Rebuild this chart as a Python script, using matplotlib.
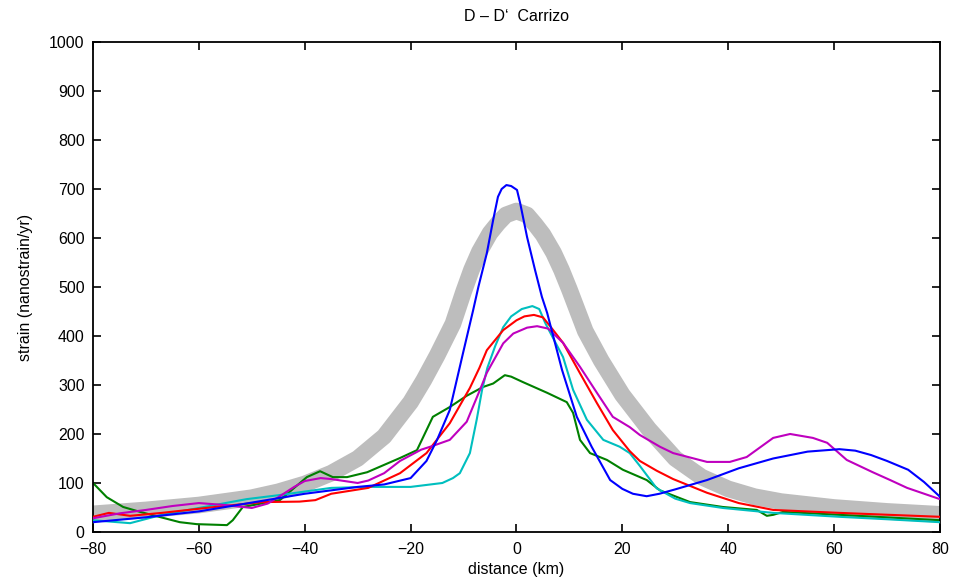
import numpy as np
from matplotlib import pyplot as plt

plt.rcParams['font.family'] = ['Liberation Sans', 'DejaVu Sans']

# gray reference curve (thick)
gray_x = [-80, -70, -60, -50, -45, -40, -35, -30, -25, -20, -17.5, -15, -12, -10, -8.5, -7,
          -5, -3.5, -2, 0, 2, 3.5, 5, 7, 8.5, 10, 13, 16, 20, 25, 30, 35, 40, 45, 50, 60,
          70, 80]
gray_y = [37, 45, 55, 70, 82, 98, 120, 150, 195, 265, 310, 360, 425, 490, 535, 572,
          610, 630, 647, 655, 647, 628, 607, 570, 535, 495, 410, 350, 280, 210, 150, 112,
          88, 72, 62, 50, 42, 36]

blue_x = [-80, -70, -60, -50, -40, -30, -25, -20, -17, -15, -12.6, -10.1, -8.2, -7.2, -5.6,
          -4.4, -3.5, -2.8, -1.9, -1, 0.1, 0.7, 2, 3.5, 4.8, 5.8, 8.6, 11.4, 14.2, 17.7, 20,
          22, 24.6, 27, 30, 36, 42, 48.5, 55, 61, 64, 67, 70, 74, 77, 80]
blue_y = [20, 30, 42, 60, 78, 92, 97, 110, 145, 188, 249, 365, 452, 500, 569,
          637, 684, 700, 708, 706, 698, 671, 602, 535, 480, 447, 331, 235, 174, 106, 88,
          78, 73, 78, 87, 106, 130, 150, 164, 169, 166, 157, 145, 127, 102, 72]

cyan_x = [-80, -73, -67, -57, -51, -45, -35, -28, -22, -20, -17, -14, -12, -10.7, -8.8, -7.5,
          -6.5, -5.5, -4, -2.5, -1, 1, 3, 4.3, 5.5, 8.8, 10.7, 13.3, 16.4, 19.5, 21.4, 23.3,
          26.5, 30, 32.8, 39, 48.5, 61, 70, 80]
cyan_y = [24, 18, 35, 55, 67, 75, 90, 92, 92, 92, 96, 100, 110, 120, 161, 230,
          290, 335, 380, 418, 440, 455, 461, 455, 425, 357, 290, 229, 188, 174, 161, 135,
          89, 68, 59, 49, 39, 31, 26, 20]

red_x = [-80, -77, -73, -67, -57, -48, -41, -38, -35, -28, -25, -22, -17, -12.6, -8.8, -7,
         -5.6, -2.5, 0, 1.5, 3.3, 5, 6.5, 8.8, 12, 15.2, 18.2, 21.4, 23.3, 26.5, 29.6, 36,
         42, 48.5, 61, 80]
red_y = [31, 39, 33, 39, 51, 61, 62, 65, 78, 90, 105, 120, 161, 222, 294, 335,
         371, 412, 432, 440, 443, 438, 418, 386, 324, 263, 208, 165, 145, 125, 108, 80,
         59, 45, 39, 31]

magenta_x = [-80, -75, -70, -65, -60, -55, -50, -47, -45, -42, -40, -37, -35, -30, -28, -25,
             -22, -18, -16, -12.6, -9.4, -6.9, -5.6, -2.5, -0.6, 2, 3.9, 6, 8.8, 12, 15.2,
             18.2, 21.4, 23.3, 27.1, 29.6, 36, 40.3, 43.5, 48.5, 51.7, 56, 58.7, 62.4,
             67.3, 70.6, 73.8, 80]
magenta_y = [28, 38, 45, 53, 59, 55, 49, 58, 71, 92, 104, 110, 108, 100, 105, 120,
             145, 168, 175, 188, 225, 290, 325, 385, 405, 417, 420, 415, 386, 337, 284,
             235, 214, 198, 174, 161, 143, 143, 153, 192, 200, 192, 182, 147,
             122, 106, 90, 67]

green_x = [-80, -77.4, -74.3, -71.1, -63.6, -60.4, -54.7, -53.6, -51.7, -44.7, -39.6, -37.1,
           -34.7, -32, -28.2, -22, -18.8, -15.8, -12.6, -9.4, -6.3, -4.4, -2.2, -1, 1.2,
           5.8, 9.5, 10.7, 12, 13.9, 17.1, 20.1, 24.6, 27.1, 32.8, 39, 45.4, 47.3, 48.5,
           50.4, 61, 80]
green_y = [100, 71, 51, 41, 20, 16, 14, 24, 51, 65, 112, 124,
           112, 112, 122, 151, 167, 235, 255, 278, 296, 303, 320, 317, 306,
           284, 265, 243, 188, 161, 147, 127, 106, 85, 61, 51, 45, 33, 35,
           41, 35, 24]

fig = plt.figure(figsize=(9.66, 5.83), dpi=100)
ax = fig.add_axes([0.0963, 0.0875, 0.8767, 0.8405])

ax.plot(gray_x, gray_y, color='#bdbdbd', lw=12, solid_capstyle='butt',
        solid_joinstyle='round', zorder=1)
ax.plot(green_x, green_y, color=(0, 0.5, 0), lw=1.5, zorder=2)
ax.plot(cyan_x, cyan_y, color=(0, 0.75, 0.75), lw=1.5, zorder=3)
ax.plot(red_x, red_y, color=(1, 0, 0), lw=1.5, zorder=4)
ax.plot(magenta_x, magenta_y, color=(0.75, 0, 0.75), lw=1.5, zorder=5)
ax.plot(blue_x, blue_y, color=(0, 0, 1), lw=1.5, zorder=6)

ax.set_xlim(-80, 80)
ax.set_ylim(0, 1000)
ax.set_xticks(np.arange(-80, 81, 20))
ax.set_yticks(np.arange(0, 1001, 100))
ax.tick_params(direction='in', top=True, right=True, length=6, width=1.2, labelsize=11.5)
ax.tick_params(axis='x', pad=7)
ax.tick_params(axis='y', pad=6)
for s in ax.spines.values():
    s.set_linewidth(1.3)

ax.set_xlabel('distance (km)', fontsize=11.5, labelpad=4)
ax.set_ylabel('strain (nanostrain/yr)', fontsize=11.5, labelpad=12)
ax.set_title('D \u2013 D\u2018  Carrizo', fontsize=11.5, pad=15)

fig.savefig('out.png', dpi=100)
